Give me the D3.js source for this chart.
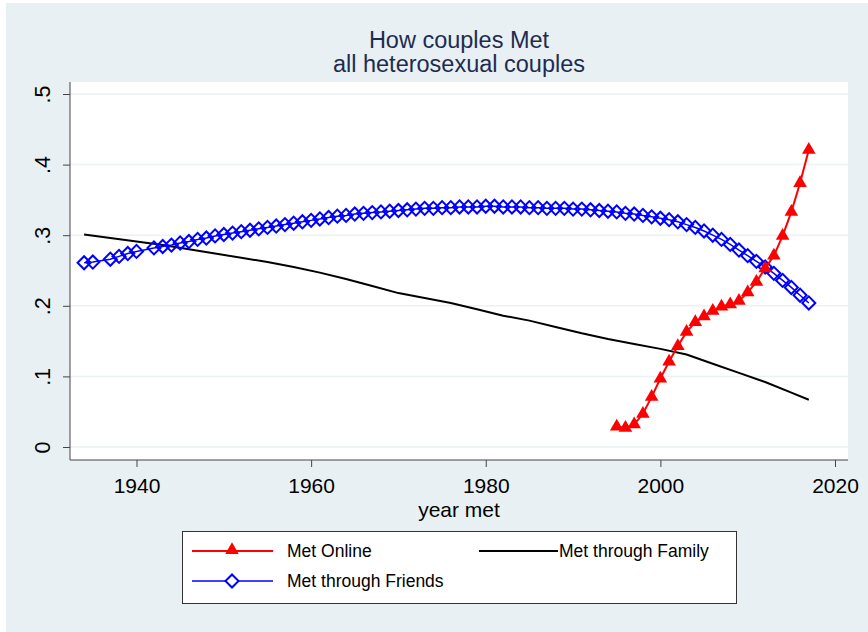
<!DOCTYPE html>
<meta charset="utf-8">
<style>
  body {margin: 0; background: #fff;}
  text {font-family: "Liberation Sans", Arial, sans-serif;}
</style>
<svg width="868" height="632"></svg>
<script src="https://cdnjs.cloudflare.com/ajax/libs/d3/7.8.5/d3.min.js"></script>
<script>

// data
var onlineYears = [1995,1996,1997,1998,1999,2000,2001,2002,2003,2004,2005,2006,2007,2008,2009,2010,2011,2012,2013,2014,2015,2016,2017];
var onlineVals  = [.029,.027,.032,.047,.071,.097,.121,.143,.163,.177,.185,.193,.199,.202,.207,.219,.234,.253,.271,.299,.333,.374,.421];

var friendsYears = [1934,1935,1937,1938,1939,1940,1942,1943,1944,1945,1946,1947,1948,1949,1950,1951,1952,1953,1954,1955,1956,1957,1958,1959,1960,1961,1962,1963,1964,1965,1966,1967,1968,1969,1970,1971,1972,1973,1974,1975,1976,1977,1978,1979,1980,1981,1982,1983,1984,1985,1986,1987,1988,1989,1990,1991,1992,1993,1994,1995,1996,1997,1998,1999,2000,2001,2002,2003,2004,2005,2006,2007,2008,2009,2010,2011,2012,2013,2014,2015,2016,2017];
var friendsVals  = [.261,.262,.266,.270,.274,.277,.282,.284,.286,.289,.291,.294,.296,.299,.301,.303,.305,.307,.309,.311,.313,.315,.317,.319,.321,.323,.325,.327,.328,.330,.331,.332,.333,.334,.335,.336,.337,.338,.338,.339,.339,.340,.340,.340,.341,.341,.340,.340,.340,.339,.339,.338,.338,.338,.337,.337,.336,.335,.334,.333,.331,.330,.328,.326,.324,.322,.319,.315,.311,.306,.300,.294,.287,.279,.271,.263,.255,.246,.236,.226,.215,.204];

var familyYears = [1934,1937,1940,1943,1946,1949,1952,1955,1958,1961,1964,1967,1970,1973,1976,1979,1982,1985,1988,1991,1994,1997,2000,2003,2006,2009,2012,2015,2017];
var familyVals  = [.301,.296,.291,.286,.280,.274,.268,.262,.255,.247,.238,.228,.218,.211,.204,.195,.186,.179,.170,.161,.153,.146,.139,.131,.118,.105,.092,.077,.067];

var xTicks = [1940,1960,1980,2000,2020];
var yTicks = [0,.1,.2,.3,.4,.5];
var yTickLabels = ["0",".1",".2",".3",".4",".5"];

var svg = d3.select("svg");

// graph region
svg.append("rect")
    .attr("x", 6).attr("y", 3)
    .attr("width", 862).attr("height", 629)
    .style("fill", "#e9f0f3");

// plot region
svg.append("rect")
    .attr("x", 70).attr("y", 82)
    .attr("width", 778).attr("height", 378)
    .style("fill", "#fff");

var x = d3.scaleLinear().domain([1940, 2020]).range([136.5, 835]);
var y = d3.scaleLinear().domain([0, .5]).range([447, 94]);

// grid
svg.append("g").selectAll("line")
    .data(yTicks)
    .enter().append("line")
    .attr("x1", 70).attr("x2", 848)
    .attr("y1", function(d) { return y(d); })
    .attr("y2", function(d) { return y(d); })
    .style("stroke", "#eaf2f4")
    .style("stroke-width", 1.5);

// axes
var yAxis = svg.append("g")
    .attr("transform", "translate(70,0)")
    .call(d3.axisLeft(y).tickValues(yTicks).tickSize(7)
      .tickFormat(function(d, i) { return yTickLabels[i]; }));
yAxis.select(".domain").attr("d", "M0,82V460").style("stroke", "#444");
yAxis.selectAll(".tick line").style("stroke", "#444");
yAxis.selectAll(".tick text")
    .attr("x", null).attr("dy", null)
    .attr("transform", "translate(-20,0) rotate(-90)")
    .attr("text-anchor", "middle")
    .style("font-size", "21.5px")
    .style("fill", "#000");

var xAxis = svg.append("g")
    .attr("transform", "translate(0,460)")
    .call(d3.axisBottom(x).tickValues(xTicks).tickSize(7).tickFormat(d3.format("d")));
xAxis.select(".domain").attr("d", "M70,0H848").style("stroke", "#444");
xAxis.selectAll(".tick line").style("stroke", "#444");
xAxis.selectAll(".tick text")
    .attr("y", null).attr("dy", null)
    .attr("transform", "translate(0,33)")
    .style("font-size", "21px")
    .style("fill", "#000");

svg.append("text")
    .attr("x", 459).attr("y", 517)
    .attr("text-anchor", "middle")
    .style("font-size", "21px")
    .text("year met");

// title
svg.append("text")
    .attr("x", 459).attr("y", 48)
    .attr("text-anchor", "middle")
    .style("font-size", "23.5px")
    .style("fill", "#1e2b50")
    .text("How couples Met");
svg.append("text")
    .attr("x", 459).attr("y", 72)
    .attr("text-anchor", "middle")
    .style("font-size", "23.5px")
    .style("fill", "#1e2b50")
    .text("all heterosexual couples");

function pts(years, vals) {
  return years.map(function(d, i) { return [d, vals[i]]; });
}
var line = d3.line()
    .x(function(d) { return x(d[0]); })
    .y(function(d) { return y(d[1]); });

var tri = d3.symbol().type(d3.symbolTriangle).size(80);
var dia = d3.symbol().type(d3.symbolSquare).size(85);

// family
svg.append("path")
    .datum(pts(familyYears, familyVals))
    .attr("d", line)
    .style("fill", "none")
    .style("stroke", "#000")
    .style("stroke-width", 2);

// friends
var friends = pts(friendsYears, friendsVals);
svg.append("path")
    .datum(friends)
    .attr("d", line)
    .style("fill", "none")
    .style("stroke", "#00f")
    .style("stroke-width", 1.5);
svg.append("g").selectAll("path")
    .data(friends)
    .enter().append("path")
    .attr("d", dia)
    .attr("transform", function(d) { return "translate(" + x(d[0]) + "," + y(d[1]) + ") rotate(45)"; })
    .style("fill", "none")
    .style("stroke", "#00f")
    .style("stroke-width", 2);

// online
var online = pts(onlineYears, onlineVals);
svg.append("path")
    .datum(online)
    .attr("d", line)
    .style("fill", "none")
    .style("stroke", "#f00")
    .style("stroke-width", 2);
svg.append("g").selectAll("path")
    .data(online)
    .enter().append("path")
    .attr("d", tri)
    .attr("transform", function(d) { return "translate(" + x(d[0]) + "," + y(d[1]) + ")"; })
    .style("fill", "#f00");

// LEGEND
var legend = svg.append("g");
legend.append("rect")
    .attr("x", 182.5).attr("y", 531.5)
    .attr("width", 554).attr("height", 72)
    .style("fill", "#fff")
    .style("stroke", "#333")
    .style("stroke-width", 1);

legend.append("line")
    .attr("x1", 192).attr("x2", 273).attr("y1", 551).attr("y2", 551)
    .style("stroke", "#f00").style("stroke-width", 2);
legend.append("path")
    .attr("d", tri)
    .attr("transform", "translate(232,550)")
    .style("fill", "#f00");
legend.append("text")
    .attr("x", 287).attr("y", 557)
    .style("font-size", "17.5px")
    .text("Met Online");

legend.append("line")
    .attr("x1", 479).attr("x2", 558).attr("y1", 551).attr("y2", 551)
    .style("stroke", "#000").style("stroke-width", 2);
legend.append("text")
    .attr("x", 559).attr("y", 557)
    .style("font-size", "17.5px")
    .text("Met through Family");

legend.append("line")
    .attr("x1", 192).attr("x2", 273).attr("y1", 581).attr("y2", 581)
    .style("stroke", "#00f").style("stroke-width", 1.5);
legend.append("path")
    .attr("d", dia)
    .attr("transform", "translate(232,581) rotate(45)")
    .style("fill", "#fff")
    .style("stroke", "#00f")
    .style("stroke-width", 2);
legend.append("text")
    .attr("x", 287).attr("y", 587)
    .style("font-size", "17.5px")
    .text("Met through Friends");

</script>
